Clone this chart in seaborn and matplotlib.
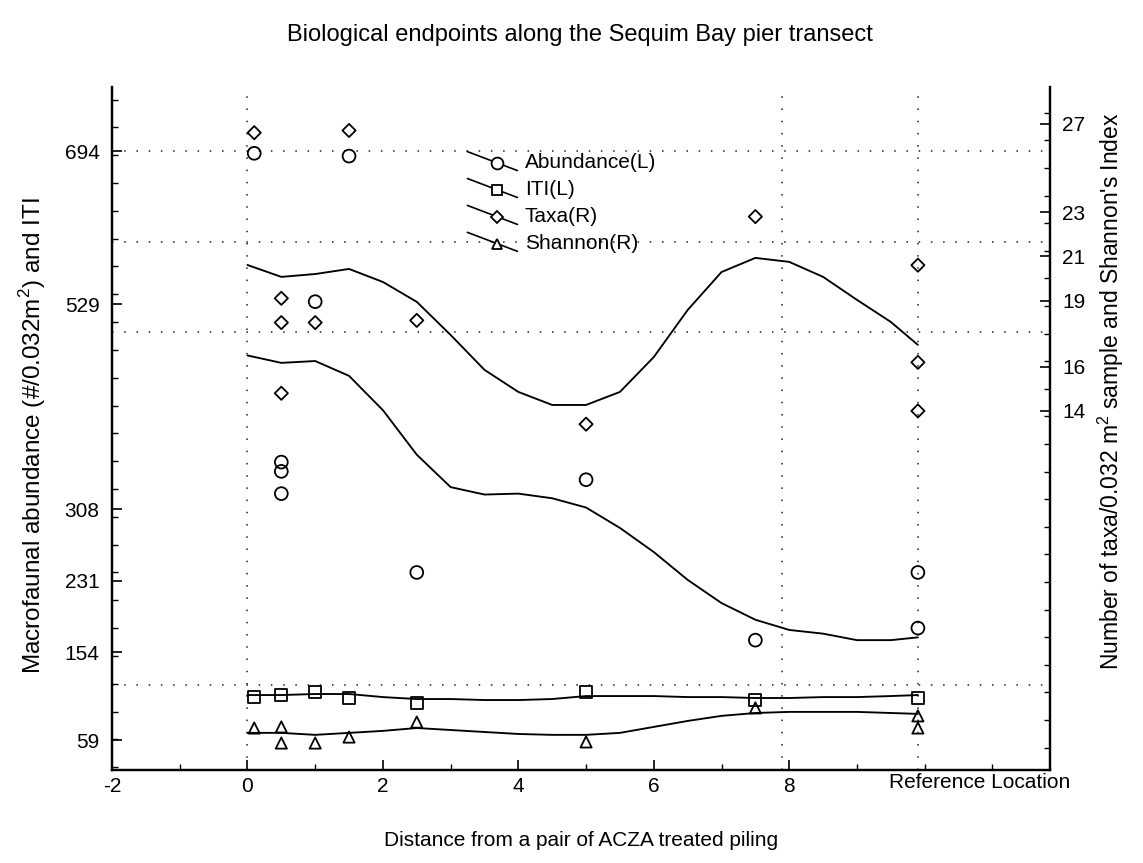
import numpy as np
import pandas as pd
import matplotlib
matplotlib.use("Agg")
import matplotlib.pyplot as plt
import seaborn as sns
from matplotlib.lines import Line2D
from matplotlib.legend_handler import HandlerLine2D
from matplotlib.ticker import MultipleLocator

# ---------------- data ----------------
abund_x = [0.1, 0.5, 0.5, 0.5, 1.0, 1.5, 2.5, 5.0, 7.5, 9.9, 9.9]
abund_y = [692, 359, 349, 325, 532, 689, 240, 340, 167, 240, 180]

iti_x = [0.1, 0.5, 1.0, 1.5, 2.5, 5.0, 7.5, 9.9]
iti_y = [106, 108, 111, 105, 99, 111, 102, 105]

taxa_x = [0.1, 0.5, 0.5, 0.5, 1.0, 1.5, 2.5, 5.0, 7.5, 9.9, 9.9, 9.9]
taxa_y = [26.6, 19.1, 18.0, 14.8, 18.0, 26.7, 18.1, 13.4, 22.8, 20.6, 16.2, 14.0]

shannon_x = [0.1, 0.5, 0.5, 1.0, 1.5, 2.5, 5.0, 7.5, 9.9, 9.9]
shannon_y = [-0.36, -0.31, -1.04, -1.04, -0.77, -0.09, -0.99, 0.55, 0.19, -0.36]

fit_x = [0.0, 0.5, 1.0, 1.5, 2.0, 2.5, 3.0, 3.5, 4.0, 4.5, 5.0,
         5.5, 6.0, 6.5, 7.0, 7.5, 8.0, 8.5, 9.0, 9.5, 9.9]
abund_fit = [474, 466, 468, 452, 415, 367, 332, 324, 325, 320, 310,
             288, 262, 232, 207, 189, 178, 174, 167, 167, 170]
iti_fit = [107.8, 107.8, 108.9, 108.9, 105.6, 103.5, 103.5, 102.4, 102.4, 103.5, 106.7,
           106.7, 106.7, 105.6, 105.6, 104.6, 104.6, 105.6, 105.6, 106.7, 107.8]
taxa_fit = [20.61, 20.07, 20.20, 20.43, 19.84, 18.94, 17.44, 15.86, 14.86, 14.27, 14.27,
            14.86, 16.44, 18.57, 20.29, 20.93, 20.75, 20.07, 19.03, 18.03, 16.99]
shannon_fit = [-0.58, -0.58, -0.67, -0.58, -0.49, -0.36, -0.45, -0.54, -0.63, -0.67, -0.67,
               -0.58, -0.31, -0.04, 0.19, 0.32, 0.37, 0.37, 0.37, 0.32, 0.28]

left_ticks = [694, 529, 308, 231, 154, 59]
right_ticks = [27, 23, 21, 19, 16, 14]
x_ticks = [-2, 0, 2, 4, 6, 8]
legend_labels = ["Abundance(L)", "ITI(L)", "Taxa(R)", "Shannon(R)"]

title = "Biological endpoints along the Sequim Bay pier transect"
xlabel = "Distance from a pair of ACZA treated piling"
ylabel_left = "Macrofaunal abundance (#/0.032m$^2$) and ITI"
ylabel_right = "Number of taxa/0.032 m$^2$ sample and Shannon's Index"
ref_label = "Reference Location"

# ---------------- style ----------------
sns.set_theme(style="ticks")
plt.rcParams["font.family"] = ["Liberation Sans", "DejaVu Sans"]
plt.rcParams["mathtext.fontset"] = "custom"
plt.rcParams["mathtext.rm"] = "Liberation Sans"
plt.rcParams["text.color"] = "black"
plt.rcParams["axes.labelcolor"] = "black"
plt.rcParams["xtick.color"] = "black"
plt.rcParams["ytick.color"] = "black"
FS = 15

fig = plt.figure(figsize=(11.43, 8.63), dpi=100)
ax = fig.add_axes([0.098, 0.1078, 0.8206, 0.7914])
ax2 = ax.twinx()

pts = dict(facecolor="none", edgecolor="black", linewidth=1.3, legend=False, zorder=3)
ln = dict(color="black", linewidth=1.35, legend=False)

d_ab = pd.DataFrame({"x": abund_x, "y": abund_y})
d_iti = pd.DataFrame({"x": iti_x, "y": iti_y})
d_tax = pd.DataFrame({"x": taxa_x, "y": taxa_y})
d_sh = pd.DataFrame({"x": shannon_x, "y": shannon_y})
d_fit = pd.DataFrame({"x": fit_x, "ab": abund_fit, "iti": iti_fit,
                      "tax": taxa_fit, "sh": shannon_fit})

sns.lineplot(data=d_fit, x="x", y="ab", ax=ax, **ln)
sns.lineplot(data=d_fit, x="x", y="iti", ax=ax, **ln)
sns.scatterplot(data=d_ab, x="x", y="y", marker="o", s=85, ax=ax, **pts)
sns.scatterplot(data=d_iti, x="x", y="y", marker="s", s=75, ax=ax, **pts)

sns.lineplot(data=d_fit, x="x", y="tax", ax=ax2, **ln)
sns.lineplot(data=d_fit, x="x", y="sh", ax=ax2, **ln)
sns.scatterplot(data=d_tax, x="x", y="y", marker="D", s=45, ax=ax2, **pts)
sns.scatterplot(data=d_sh, x="x", y="y", marker="^", s=65, ax=ax2, **pts)

ax.set_xlim(-2, 11.85)
ax.set_ylim(27, 763.5)
ax2.set_ylim(-2.26, 28.67)

# sparse dotted reference grid
for gy in [694, 596, 499, 119]:
    ax.axhline(gy, color="#222222", linestyle=(0, (1, 7)), linewidth=1.1, zorder=0)
for gx in [0, 7.9, 9.9]:
    ax.axvline(gx, color="#222222", linestyle=(0, (1, 7)), linewidth=1.1, zorder=0)

ax.set_xticks(x_ticks)
ax.set_xticklabels([str(t) for t in x_ticks], fontsize=FS)
ax.xaxis.set_minor_locator(MultipleLocator(1))
ax.set_yticks(left_ticks)
ax.set_yticklabels([str(t) for t in left_ticks], fontsize=FS)
ax.yaxis.set_minor_locator(MultipleLocator(30))
ax2.set_yticks(right_ticks)
ax2.set_yticklabels([str(t) for t in right_ticks], fontsize=FS)
ax2.yaxis.set_minor_locator(MultipleLocator(1.25))

for a in (ax, ax2):
    a.tick_params(which="major", direction="in", length=7, width=1.2, colors="black", pad=9)
    a.tick_params(which="minor", direction="in", length=4, width=1.0, colors="black")
    a.spines["top"].set_visible(False)
    for s in ("left", "right", "bottom"):
        a.spines[s].set_linewidth(1.6)
        a.spines[s].set_color("black")
ax.tick_params(axis="x", which="major", pad=5)

ax.set_xlabel(xlabel, fontsize=FS)
ax.xaxis.set_label_coords(0.5, -0.09)
ax.set_ylabel(ylabel_left, fontsize=17.5)
ax.yaxis.set_label_coords(-0.068, 0.49)
ax2.set_ylabel(ylabel_right, fontsize=16.5)
ax2.yaxis.set_label_coords(1.049, 0.555)

ax.text(0.925, -0.004, ref_label, transform=ax.transAxes, ha="center", va="top", fontsize=FS)
fig.text(0.507, 1 - 35 / 863, title, ha="center", va="center", fontsize=17)


class SlopedHandler(HandlerLine2D):
    def create_artists(self, legend, orig_handle, xdescent, ydescent,
                       width, height, fontsize, trans):
        x0, x1 = -xdescent, -xdescent + width
        y0, y1 = -ydescent + height * 1.15, -ydescent - height * 0.15
        line = Line2D([x0, x1], [y0, y1], color="black", lw=1.2)
        line.set_transform(trans)
        xm = x0 + 0.6 * (x1 - x0)
        ym = y0 + 0.6 * (y1 - y0)
        mark = Line2D([xm], [ym], marker=orig_handle.get_marker(),
                      ms=orig_handle.get_markersize(), mfc="white", mec="black",
                      mew=1.3, linestyle="none")
        mark.set_transform(trans)
        return [line, mark]


mk = dict(color="black", mfc="none", mec="black", lw=1.2, mew=1.3)
handles = [Line2D([], [], marker="o", ms=8.5, **mk),
           Line2D([], [], marker="s", ms=7.5, **mk),
           Line2D([], [], marker="D", ms=6.5, **mk),
           Line2D([], [], marker="^", ms=7.5, **mk)]
ax.legend(handles, legend_labels, loc="upper left", bbox_to_anchor=(0.37, 0.915),
          frameon=False, fontsize=FS, handlelength=2.4, labelspacing=0.38,
          handletextpad=0.35, borderaxespad=0,
          handler_map={Line2D: SlopedHandler()})

fig.savefig("out.png", dpi=100)
